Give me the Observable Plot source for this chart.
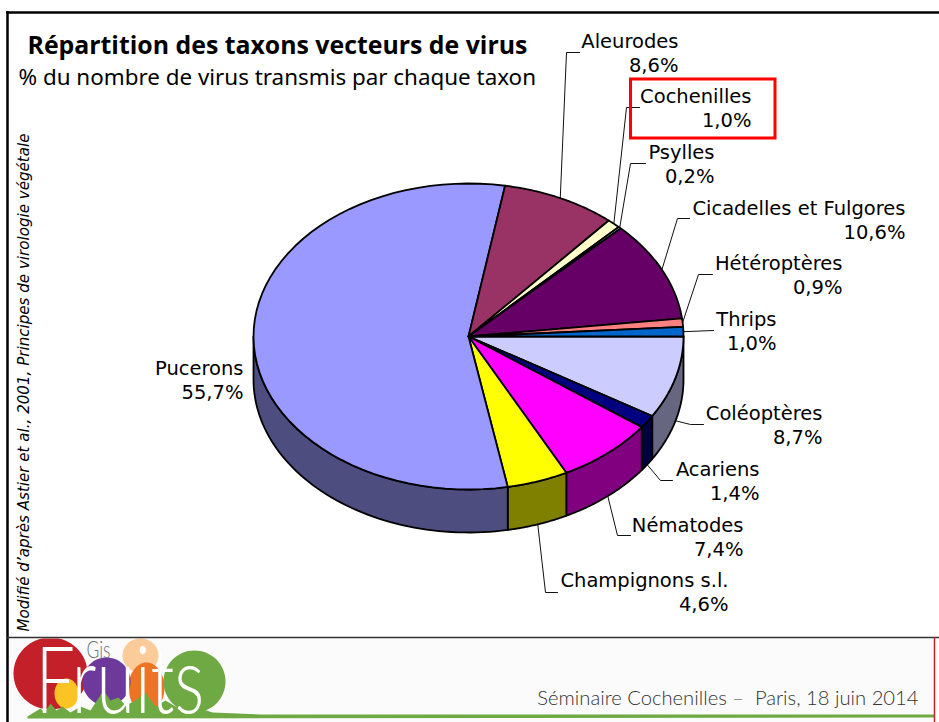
<!DOCTYPE html>
<html lang="fr">
<head>
<meta charset="utf-8">
<script src="https://cdn.jsdelivr.net/npm/d3@7"></script>
<script src="https://cdn.jsdelivr.net/npm/@observablehq/plot@0.6"></script>
<style>html,body{margin:0;padding:0;background:#fff;overflow:hidden}</style>
</head>
<body>
<div id="chart"></div>
<script>
// ---- data (clockwise from 3 o'clock) ----
const taxa = ["Coléoptères","Acariens","Nématodes","Champignons s.l.","Pucerons","Aleurodes","Cochenilles","Psylles","Cicadelles et Fulgores","Hétéroptères","Thrips"];
const shares = [8.7,1.4,7.4,4.6,55.7,8.6,1.0,0.2,10.6,0.9,1.0];
const topColors = ["#CCCCFF","#000080","#FF00FF","#FFFF00","#9999FF","#993366","#FFFFCC","#CCFFFF","#660066","#FF8080","#0066CC"];

// ---- layout, kept apart from the data ----
const W = 939, H = 722;
const pie = {cx: 468, cy: 336, rx: 215, ry: 153, depth: 43};
const FONT = "'DejaVu Sans', Verdana, sans-serif";
const labelLayout = {
  "Coléoptères":            {right: 822, y: 413, elbow: [[690,424],[703,424]]},
  "Acariens":               {right: 759, y: 469, elbow: [[660,480],[672,480]]},
  "Nématodes":              {right: 743, y: 525, elbow: [[617,535],[630,535]]},
  "Champignons s.l.":       {right: 728, y: 580, elbow: [[545,592],[557,592]]},
  "Pucerons":               {right: 243, y: 368, elbow: null},
  "Aleurodes":              {right: 678, y: 41,  elbow: [[566,52],[579,52]]},
  "Cochenilles":            {right: 751, y: 96,  elbow: [[626,107],[639,107]]},
  "Psylles":                {right: 714, y: 152, elbow: [[630,163],[645,163]]},
  "Cicadelles et Fulgores": {right: 905, y: 208, elbow: [[677,218],[689,218]]},
  "Hétéroptères":           {right: 842, y: 263, elbow: [[698,274],[712,274]]},
  "Thrips":                 {right: 776, y: 319, elbow: [[713,330]]}
};

// ---- pie geometry, derived from the shares ----
const total = d3.sum(shares);
const cum = d3.cumsum(shares);
const TAU = 2 * Math.PI;
const px = a => pie.cx + pie.rx * Math.cos(a);
const py = (a, dz = 0) => pie.cy + pie.ry * Math.sin(a) + dz;
const slices = taxa.map((name, i) => ({
  name, share: shares[i], color: topColors[i],
  a0: (i ? cum[i - 1] : 0) / total * TAU,
  a1: cum[i] / total * TAU
}));
const arc = (a0, a1) => d3.range(0, 61).map(k => a0 + (a1 - a0) * k / 60);

const sideRows = [];
const topRows = [];
for (const s of slices) {
  const c = d3.rgb(s.color);
  const dark = d3.rgb(c.r / 2, c.g / 2, c.b / 2).formatHex();
  const a0 = s.a0, a1 = Math.min(s.a1, Math.PI);
  if (a0 < Math.PI) {
    const ring = [...arc(a0, a1).map(a => [px(a), py(a)]),
                  ...arc(a1, a0).map(a => [px(a), py(a, pie.depth)])];
    ring.push(ring[0]);
    ring.forEach(([x, y]) => sideRows.push({id: s.name, x, y, fill: dark}));
  }
  const ring = [[pie.cx, pie.cy], ...arc(s.a0, s.a1).map(a => [px(a), py(a)]), [pie.cx, pie.cy]];
  ring.forEach(([x, y]) => topRows.push({id: s.name, x, y, fill: s.color}));
}

const leaderRows = [];
const labelRows = [];
for (const s of slices) {
  const l = labelLayout[s.name];
  labelRows.push({text: s.name + "\n" + s.share.toFixed(1).replace(".", ",") + "%", x: l.right, y: l.y});
  if (!l.elbow) continue;
  const m = (s.a0 + s.a1) / 2;
  const start = [px(m), py(m, Math.sin(m) > 0 ? pie.depth : 0)];
  [start, ...l.elbow].forEach(([x, y]) => leaderRows.push({id: s.name, x, y}));
}

// ---- slide furniture ----
const logoEllipses = [
  {id:"peach",  cx:140, cy:655, rx:18, ry:17, fill:"#FBCB9A"},
  {id:"orange", cx:146, cy:687, rx:18, ry:25, fill:"#EE7425"},
  {id:"red",    cx:50,  cy:673, rx:37, ry:36, fill:"#C4202A"},
  {id:"yellow", cx:66,  cy:693, rx:12, ry:15, fill:"#FBC323"},
  {id:"purple", cx:106, cy:681, rx:24, ry:24, fill:"#6D3A9C"},
  {id:"green",  cx:194, cy:681, rx:31, ry:31, fill:"#6FA943"}
].flatMap(e => d3.range(0, 65).map(k => ({
  id: e.id, fill: e.fill,
  x: e.cx + e.rx * Math.cos(k / 64 * TAU),
  y: Math.max(638, e.cy + e.ry * Math.sin(k / 64 * TAU))
})));
const grass = [[27,716],[40,708],[44,712],[50,703],[56,710],[62,706],[70,712],[80,706],[90,710],[103,690],[110,700],[118,697],[125,705],[135,700],[145,692],[155,706],[165,700],[175,706],[200,708],[212,712],[260,714],[934,714],[934,717],[27,718],[27,716]]
  .map(([x, y]) => ({x, y}));

const plot = Plot.plot({
  width: W, height: H, margin: 0,
  x: {domain: [0, W], range: [0, W], axis: null},
  y: {domain: [0, H], range: [0, H], axis: null},
  color: {type: "identity"},
  style: {background: "#fff"},
  marks: [
    // footer band
    Plot.rect([0], {x1: 8, x2: 934, y1: 638, y2: H, fill: "#FAFBFA"}),
    Plot.line(logoEllipses, {x: "x", y: "y", z: "id", fill: "fill", stroke: null}),
    Plot.line(grass, {x: "x", y: "y", fill: "#6FA943", stroke: null}),
    Plot.text(["Fruits"], {x: 35, y: 712, text: d => d, fontSize: 92, textAnchor: "start", lineAnchor: "bottom", fill: "#fff", fontFamily: "Lato, sans-serif", fontWeight: 300, className: "logo-word"}),
    Plot.text(["Gis"], {x: 86, y: 650, text: d => d, fontSize: 23, textAnchor: "start", fill: "#6B7280", fontFamily: "Lato, sans-serif", fontWeight: 300, className: "logo-word"}),
    Plot.text(["Séminaire Cochenilles –  Paris, 18 juin 2014"], {x: 918, y: 698, text: d => d, fontSize: 20.2, textAnchor: "end", fill: "#333", fontFamily: "Lato, sans-serif", fontWeight: 300}),
    // slide frame
    Plot.ruleY([12], {x1: 6, x2: W, stroke: "#000", strokeWidth: 2.5}),
    Plot.ruleX([7], {y1: 11, y2: H, stroke: "#000", strokeWidth: 2.5}),
    Plot.ruleY([637], {x1: 7, x2: W, stroke: "#333", strokeWidth: 1.5}),
    Plot.ruleX([934], {y1: 637, y2: H, stroke: "#C4202A", strokeWidth: 1.5}),
    // leaders
    Plot.line(leaderRows, {x: "x", y: "y", z: "id", stroke: "#111", strokeWidth: 1}),
    // 3-D pie
    Plot.line(sideRows, {x: "x", y: "y", z: "id", fill: "fill", stroke: "#000", strokeWidth: 1.8, strokeLinejoin: "round"}),
    Plot.line(topRows, {x: "x", y: "y", z: "id", fill: "fill", stroke: "#000", strokeWidth: 1.8, strokeLinejoin: "round"}),
    // labels
    Plot.text(labelRows, {x: "x", y: "y", text: "text", textAnchor: "end", lineAnchor: "middle", fontSize: 19.5, lineHeight: 1.2, fill: "#000", fontFamily: FONT, dy: 11}),
    Plot.rect([0], {x1: 630.5, x2: 775, y1: 79, y2: 138, fill: "none", stroke: "#F00", strokeWidth: 3}),
    // titles
    Plot.text(["Répartition des taxons vecteurs de virus"], {x: 27, y: 46, text: d => d, textAnchor: "start", fontSize: 24.85, fontWeight: 700, fill: "#000", fontFamily: "'Open Sans', sans-serif"}),
    Plot.text(["% du nombre de virus transmis par chaque taxon"], {x: 18, y: 77, text: d => d, textAnchor: "start", fontSize: 22.4, fill: "#000", fontFamily: "'Noto Sans', sans-serif"}),
    Plot.text(["Modifié d’après Astier et al., 2001, Principes de virologie végétale"], {x: 24, y: 631, text: d => d, textAnchor: "start", rotate: -90, fontSize: 15.1, fontStyle: "italic", fill: "#000", fontFamily: FONT})
  ]
});
// The logo lettering is condensed in the reference.
d3.select(plot).selectAll(".logo-word text").each(function () {
  const t = d3.select(this);
  t.attr("transform", (t.attr("transform") || "") + " scale(0.76,1)");
});
document.getElementById("chart").append(plot);
</script>
</body>
</html>
